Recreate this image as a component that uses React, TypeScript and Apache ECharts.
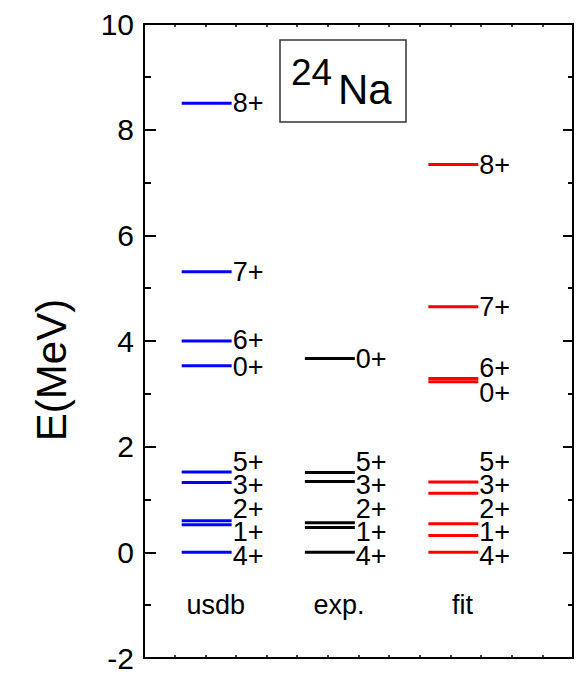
import React, { useEffect, useRef } from "react";
import * as echarts from "echarts";

// ---- data ----
const columnNames = ["usdb", "exp.", "fit"];
const columnColors = ["#0000ff", "#000000", "#ff0000"];
const columnStart = [1.23, 5.25, 9.28];
const levelWidth = 1.63;

const usdbSpins = ["4+", "1+", "2+", "3+", "5+", "0+", "6+", "7+", "8+"];
const usdbE = [0, 0.52, 0.6, 1.32, 1.52, 3.53, 4.0, 5.31, 8.5];
const usdbLabelE = [-0.06, 0.38, 0.815, 1.27, 1.71, 3.5, 4.02, 5.31, 8.5];

const expSpins = ["4+", "1+", "2+", "3+", "5+", "0+"];
const expE = [0, 0.47, 0.56, 1.34, 1.51, 3.67];
const expLabelE = [-0.06, 0.38, 0.815, 1.27, 1.71, 3.66];

const fitSpins = ["4+", "1+", "2+", "3+", "5+", "0+", "6+", "7+", "8+"];
const fitE = [0, 0.32, 0.54, 1.12, 1.33, 3.23, 3.29, 4.65, 7.34];
const fitLabelE = [-0.06, 0.38, 0.815, 1.27, 1.71, 3.01, 3.49, 4.65, 7.33];

const yTicks = [-2, 0, 2, 4, 6, 8, 10];

const FONT = "'Liberation Sans', Arial, Helvetica, sans-serif";

export default function App() {
  const ref = useRef<HTMLDivElement>(null);

  useEffect(() => {
    if (!ref.current) return;
    const chart = echarts.init(ref.current, undefined, { renderer: "svg" });

    const groups = [
      { spins: usdbSpins, e: usdbE, le: usdbLabelE },
      { spins: expSpins, e: expE, le: expLabelE },
      { spins: fitSpins, e: fitE, le: fitLabelE },
    ];

    const levelSeries = groups.map((g, ci) => ({
      type: "custom",
      name: columnNames[ci],
      data: g.e.map((e, i) => [columnStart[ci], columnStart[ci] + levelWidth, e, g.le[i], i]),
      renderItem: (params: any, api: any) => {
        const p1 = api.coord([api.value(0), api.value(2)]);
        const p2 = api.coord([api.value(1), api.value(2)]);
        const pl = api.coord([api.value(1), api.value(3)]);
        const idx = api.value(4);
        return {
          type: "group",
          children: [
            {
              type: "line",
              shape: { x1: p1[0], y1: p1[1], x2: p2[0], y2: p2[1] },
              style: { stroke: columnColors[ci], lineWidth: 3 },
            },
            {
              type: "text",
              x: pl[0] + 1,
              y: pl[1],
              style: {
                text: g.spins[idx],
                fill: "#000",
                fontSize: 27,
                fontFamily: FONT,
                align: "left",
                verticalAlign: "middle",
              },
            },
          ],
        };
      },
    }));

    const nameSeries = {
      type: "custom",
      name: "columns",
      data: columnNames.map((n, i) => [columnStart[i] + levelWidth / 2 + 0.3, -1, i]),
      renderItem: (params: any, api: any) => {
        const p = api.coord([api.value(0), api.value(1)]);
        return {
          type: "text",
          x: p[0],
          y: p[1],
          style: {
            text: columnNames[api.value(2)],
            fill: "#000",
            fontSize: 27,
            fontFamily: FONT,
            align: "center",
            verticalAlign: "middle",
          },
        };
      },
    };

    const axisLine = { show: true, onZero: false, lineStyle: { color: "#000", width: 2 } };

    chart.setOption({
      animation: false,
      backgroundColor: "#fff",
      grid: { left: 144, right: 5, top: 24, bottom: 26, containLabel: false },
      xAxis: [
        {
          type: "value",
          min: 0,
          max: 14,
          interval: 1,
          position: "bottom",
          axisLine,
          axisTick: { show: true, inside: true, length: 3, lineStyle: { color: "#000", width: 1.5 } },
          axisLabel: { show: false },
          splitLine: { show: false },
        },
        {
          type: "value",
          min: 0,
          max: 14,
          interval: 1,
          position: "top",
          axisLine,
          axisTick: { show: true, inside: true, length: 3, lineStyle: { color: "#000", width: 1.5 } },
          axisLabel: { show: false },
          splitLine: { show: false },
        },
      ],
      yAxis: [
        {
          type: "value",
          min: yTicks[0],
          max: yTicks[yTicks.length - 1],
          interval: 2,
          position: "left",
          name: "E(MeV)",
          nameLocation: "middle",
          nameGap: 72,
          nameTextStyle: { fontSize: 42, fontFamily: FONT, color: "#000", padding: [0, 58, 0, 0] },
          axisLine,
          axisTick: { show: true, inside: true, length: 12, lineStyle: { color: "#000", width: 2 } },
          minorTick: { show: true, splitNumber: 2, length: 7, lineStyle: { color: "#000", width: 2 } },
          axisLabel: { fontSize: 30, fontFamily: FONT, color: "#000", margin: 10 },
          splitLine: { show: false },
        },
        {
          type: "value",
          min: yTicks[0],
          max: yTicks[yTicks.length - 1],
          interval: 2,
          position: "right",
          axisLine,
          axisTick: { show: true, inside: true, length: 10, lineStyle: { color: "#000", width: 2 } },
          minorTick: { show: true, splitNumber: 2, length: 5, lineStyle: { color: "#000", width: 2 } },
          axisLabel: { show: false },
          splitLine: { show: false },
        },
      ],
      graphic: [
        {
          type: "rect",
          shape: { x: 280, y: 40, width: 126, height: 82 },
          style: { fill: "#fff", stroke: "#333", lineWidth: 1.5 },
        },
        {
          type: "text",
          x: 291,
          y: 72,
          style: { text: "24", fontSize: 37, fontFamily: FONT, fill: "#000", align: "left", verticalAlign: "middle" },
        },
        {
          type: "text",
          x: 338,
          y: 89,
          style: { text: "Na", fontSize: 42, fontFamily: FONT, fill: "#000", align: "left", verticalAlign: "middle" },
        },
      ],
      series: [...levelSeries, nameSeries],
    });

    return () => chart.dispose();
  }, []);

  return (
    <div
      ref={ref}
      style={{ position: "fixed", left: 0, top: 0, width: 578, height: 684, background: "#fff" }}
    />
  );
}
